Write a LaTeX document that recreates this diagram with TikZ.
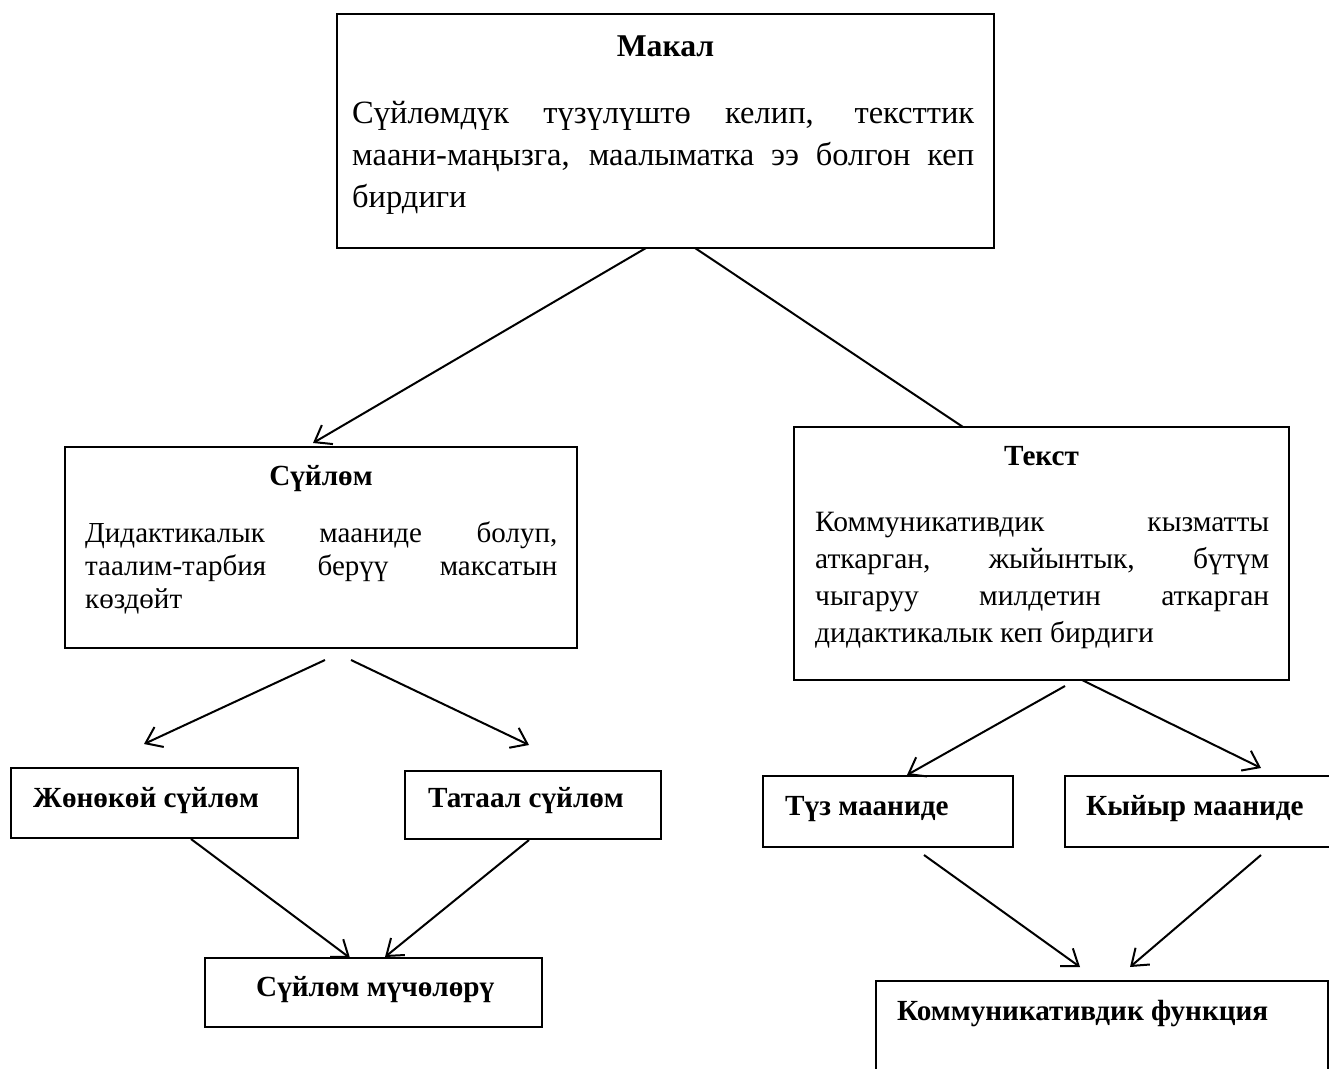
\documentclass[tikz,border=0pt]{standalone}
\usepackage{fontspec}
\setmainfont{Liberation Serif}
\usetikzlibrary{arrows.meta}
\newcommand\jline[2]{\makebox[#1][s]{#2}}
\tikzset{
  box/.style={draw=black, line width=1.3pt, rectangle, inner sep=0pt, outer sep=0pt},
  txt/.style={anchor=base west, inner sep=0pt},
  ttl/.style={anchor=base, inner sep=0pt, font=\fontsize{29.2}{35}\selectfont\bfseries},
  lbl/.style={anchor=base west, inner sep=0pt, font=\fontsize{29.2}{35}\selectfont\bfseries},
  conn/.style={line width=2pt},
  arr/.style={conn, -{Straight Barb[length=15pt, width=22pt, line width=2pt]}}
}
\begin{document}
\begin{tikzpicture}[x=1pt, y=-1pt]
\useasboundingbox (0,0) rectangle (1329,1068);
\clip (0,0) rectangle (1329,1068);
\fill[white] (0,0) rectangle (1329,1068);

% boxes
\node[box, minimum width=657pt, minimum height=234pt] (makal) at (665.5,131) {};
\node[box, minimum width=512pt, minimum height=201pt] (syilom) at (321,547.5) {};
\node[box, minimum width=495pt, minimum height=253pt] (tekst) at (1041.5,553.5) {};
\node[box, minimum width=287pt, minimum height=70pt] (jonokoy) at (154.5,803) {};
\node[box, minimum width=256pt, minimum height=68pt] (tataal) at (533,805) {};
\node[box, minimum width=337pt, minimum height=69pt] (muchol) at (373.5,992.5) {};
\node[box, minimum width=250pt, minimum height=71pt] (tuz) at (888,811.5) {};
\node[box, minimum width=280pt, minimum height=71pt] (kyiyr) at (1205,811.5) {};
\node[box, minimum width=452pt, minimum height=119pt] (komm) at (1102,1040.5) {};

% titles
\node[ttl, font=\fontsize{31.7}{38}\selectfont\bfseries] (makalttl) at (665.5,56) {Макал};
\node[ttl] (syilomttl) at (321,485) {Сүйлөм};
\node[ttl] (tekstttl) at (1041.5,465) {Текст};

% body texts
\node[txt, font=\fontsize{32.5}{42}\selectfont] (makaltxt) at (352,123)
  {\parbox[t]{622pt}{\jline{622pt}{Сүйлөмдүк түзүлүштө келип, тексттик}\\
   \jline{622pt}{маани-маңызга, маалыматка ээ болгон кеп}\\
   бирдиги}};
\node[txt, font=\fontsize{29}{33}\selectfont] (syilomtxt) at (85,542)
  {\parbox[t]{472pt}{\jline{472pt}{Дидактикалык мааниде болуп,}\\
   \jline{472pt}{таалим-тарбия берүү максатын}\\
   көздөйт}};
\node[txt, font=\fontsize{29.5}{37}\selectfont] (teksttxt) at (815,531)
  {\parbox[t]{454pt}{\jline{454pt}{Коммуникативдик кызматты}\\
   \jline{454pt}{аткарган, жыйынтык, бүтүм}\\
   \jline{454pt}{чыгаруу милдетин аткарган}\\
   дидактикалык кеп бирдиги}};

% labels
\node[lbl] (jonokoylbl) at (33,807) {Жөнөкөй сүйлөм};
\node[lbl] (tataallbl) at (428,807) {Татаал сүйлөм};
\node[lbl] (mucholbl) at (256,996) {Сүйлөм мүчөлөрү};
\node[lbl] (tuzlbl) at (785,815) {Түз мааниде};
\node[lbl] (kyiyrlbl) at (1086,815) {Кыйыр мааниде};
\node[lbl] (kommlbl) at (897,1020) {Коммуникативдик функция};

% connectors
\draw[arr] ([xshift=-19.5pt]makal.south) -- ([xshift=-8pt,yshift=4pt]syilom.north);
\draw[conn] ([xshift=29.5pt]makal.south) -- ([xshift=-78.5pt]tekst.north);
\draw[arr] ([xshift=4pt,yshift=-12pt]syilom.south) -- ([xshift=-10.5pt,yshift=24pt]jonokoy.north);
\draw[arr] ([xshift=30pt,yshift=-12pt]syilom.south) -- ([xshift=-4pt,yshift=26pt]tataal.north);
\draw[arr] ([xshift=36.5pt,yshift=-1pt]jonokoy.south) -- ([xshift=-23.5pt]muchol.north);
\draw[arr] ([xshift=-4pt,yshift=-1pt]tataal.south) -- ([xshift=11.5pt,yshift=1pt]muchol.north);
\draw[arr] ([xshift=23.5pt,yshift=-6pt]tekst.south) -- ([xshift=19pt,yshift=1pt]tuz.north);
\draw[arr] ([xshift=40.5pt]tekst.south) -- ([xshift=56pt,yshift=8pt]kyiyr.north);
\draw[arr] ([xshift=36pt,yshift=-8pt]tuz.south) -- ([xshift=-22pt,yshift=14pt]komm.north);
\draw[arr] ([xshift=56pt,yshift=-8pt]kyiyr.south) -- ([xshift=28pt,yshift=14pt]komm.north);
\end{tikzpicture}
\end{document}
